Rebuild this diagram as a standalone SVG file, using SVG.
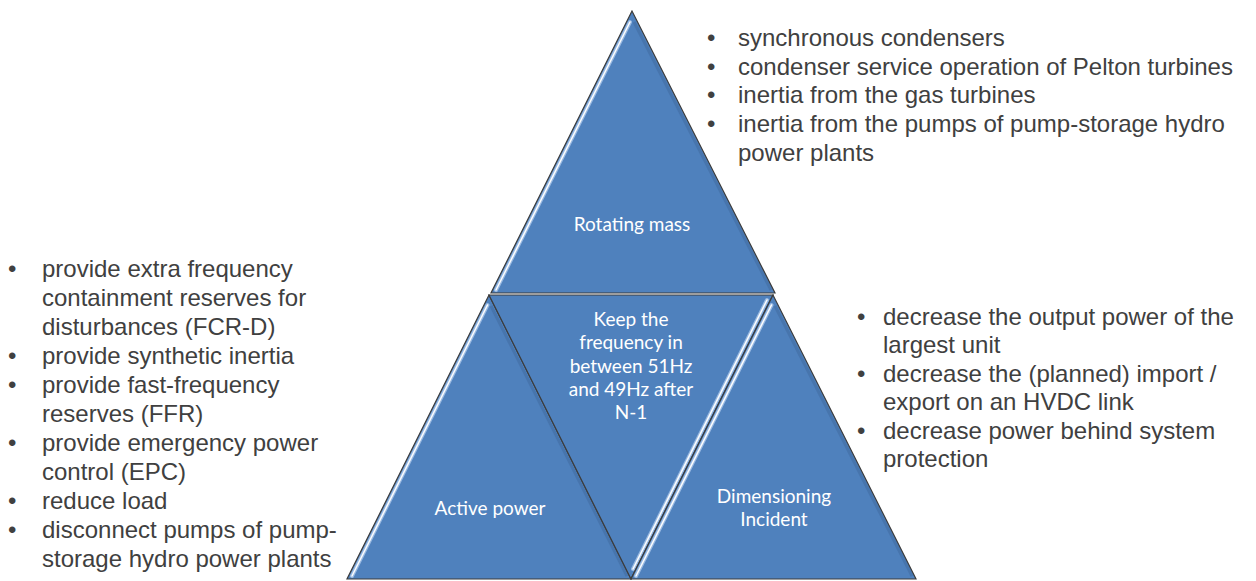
<svg xmlns="http://www.w3.org/2000/svg" width="1256" height="581" viewBox="0 0 1256 581">
  <style>
    .tri { fill: #4F81BD; stroke: #3C3C3C; stroke-width: 1.2; stroke-linejoin: miter; }
    .hl-soft { stroke: #A9C6EA; stroke-width: 4; stroke-linecap: round; fill: none; opacity: 0.8; }
    .hl { stroke: #FFFFFF; stroke-width: 1.6; stroke-linecap: round; fill: none; opacity: 0.95; }
    .shade { stroke: #3D6798; stroke-width: 3; fill: none; opacity: 0.45; }
    .lbl { font-family: Lato, "Open Sans", sans-serif; font-size: 19px; fill: #FFFFFF; text-anchor: middle; }
    .blt { font-family: "Liberation Sans", Arial, sans-serif; font-size: 24px; fill: #404040; }
  </style>
  <rect width="1256" height="581" fill="#FFFFFF"/>

  <g id="rotating-mass">
    <polygon class="tri" points="632,11 491,293 775,293"/>
    <line class="shade" x1="634" y1="22" x2="771" y2="290"/>
    <line class="hl-soft" x1="630" y1="22" x2="496" y2="290"/>
    <line class="hl" x1="630" y1="22" x2="496" y2="290"/>
    <text class="lbl" x="632" y="231">Rotating mass</text>
  </g>

  <g id="active-power">
    <polygon class="tri" points="489,295 347,579 631,579"/>
    <line class="shade" x1="491" y1="306" x2="627" y2="576"/>
    <line class="hl-soft" x1="487.5" y1="305" x2="352" y2="576"/>
    <line class="hl" x1="487.5" y1="305" x2="352" y2="576"/>
    <text class="lbl" x="490" y="515">Active power</text>
  </g>

  <g id="keep-frequency">
    <polygon class="tri" points="489,295 773,295 631,579"/>
    <line class="hl-soft" x1="767" y1="300" x2="633" y2="569"/>
    <line class="hl" x1="767" y1="300" x2="633" y2="569"/>
    <text class="lbl" x="631" y="326">Keep the</text>
    <text class="lbl" x="631" y="349.3">frequency in</text>
    <text class="lbl" x="631" y="372.6">between 51Hz</text>
    <text class="lbl" x="631" y="395.9">and 49Hz after</text>
    <text class="lbl" x="631" y="419.2">N-1</text>
  </g>

  <g id="dimensioning-incident">
    <polygon class="tri" points="773,295 631,579 916,579"/>
    <line class="shade" x1="775" y1="306" x2="912" y2="576"/>
    <line class="hl-soft" x1="771.5" y1="305" x2="636" y2="576"/>
    <line class="hl" x1="771.5" y1="305" x2="636" y2="576"/>
    <text class="lbl" x="774" y="503">Dimensioning</text>
    <text class="lbl" x="774" y="526">Incident</text>
  </g>

  <g id="rotating-mass-list">
    <text class="blt" x="707" y="46">•</text>
    <text class="blt" x="738" y="46">synchronous condensers</text>
    <text class="blt" x="707" y="75">•</text>
    <text class="blt" x="738" y="75">condenser service operation of Pelton turbines</text>
    <text class="blt" x="707" y="103">•</text>
    <text class="blt" x="738" y="103">inertia from the gas turbines</text>
    <text class="blt" x="707" y="132">•</text>
    <text class="blt" x="738" y="132">inertia from the pumps of pump-storage hydro</text>
    <text class="blt" x="738" y="161">power plants</text>
  </g>

  <g id="active-power-list">
    <text class="blt" x="8" y="277">•</text>
    <text class="blt" x="42" y="277">provide extra frequency</text>
    <text class="blt" x="42" y="306">containment reserves for</text>
    <text class="blt" x="42" y="335">disturbances (FCR-D)</text>
    <text class="blt" x="8" y="364">•</text>
    <text class="blt" x="42" y="364">provide synthetic inertia</text>
    <text class="blt" x="8" y="393">•</text>
    <text class="blt" x="42" y="393">provide fast-frequency</text>
    <text class="blt" x="42" y="422">reserves (FFR)</text>
    <text class="blt" x="8" y="451">•</text>
    <text class="blt" x="42" y="451">provide emergency power</text>
    <text class="blt" x="42" y="480">control (EPC)</text>
    <text class="blt" x="8" y="509">•</text>
    <text class="blt" x="42" y="509">reduce load</text>
    <text class="blt" x="8" y="538">•</text>
    <text class="blt" x="42" y="538">disconnect pumps of pump-</text>
    <text class="blt" x="42" y="567">storage hydro power plants</text>
  </g>

  <g id="dimensioning-incident-list">
    <text class="blt" x="857" y="325">•</text>
    <text class="blt" x="883" y="325">decrease the output power of the</text>
    <text class="blt" x="883" y="353">largest unit</text>
    <text class="blt" x="857" y="382">•</text>
    <text class="blt" x="883" y="382">decrease the (planned) import /</text>
    <text class="blt" x="883" y="410">export on an HVDC link</text>
    <text class="blt" x="857" y="439">•</text>
    <text class="blt" x="883" y="439">decrease power behind system</text>
    <text class="blt" x="883" y="467">protection</text>
  </g>
</svg>
